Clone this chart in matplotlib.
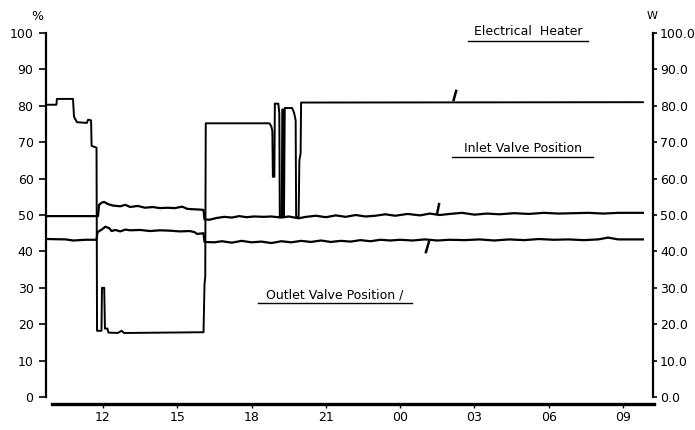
import matplotlib.pyplot as plt
import numpy as np

# time in hours (24 -> 00 next day), values in % (left) / W (right)
heater_t = [9.78, 10.12, 10.14, 10.79, 10.83, 10.95, 11.35, 11.40, 11.52, 11.54, 11.74,
            11.76, 11.94, 11.96, 12.05, 12.08, 12.18, 12.22, 12.6, 12.75, 12.85, 13.0,
            16.06, 16.10, 16.13, 16.15, 18.72, 18.80, 18.84, 18.86, 18.92, 18.94, 19.08,
            19.12, 19.14, 19.22, 19.24, 19.27, 19.29, 19.31, 19.34, 19.64, 19.72, 19.78,
            19.80, 19.90, 19.93, 19.98, 20.00, 33.80]
heater_v = [80.3, 80.3, 81.9, 81.9, 77.0, 75.5, 75.3, 76.2, 76.0, 69.0, 68.5,
            18.2, 18.2, 30.0, 30.0, 18.8, 18.8, 17.7, 17.6, 18.2, 17.6, 17.6,
            17.8, 31.0, 33.0, 75.2, 75.2, 74.3, 73.0, 60.5, 60.5, 80.6, 80.6,
            78.0, 49.5, 49.5, 79.0, 79.0, 49.8, 49.8, 79.4, 79.4, 78.0, 76.0,
            49.5, 49.3, 65.0, 67.0, 80.9, 81.0]

inlet_t = [9.78, 11.80, 11.84, 11.95, 12.05, 12.2, 12.4, 12.7, 12.9, 13.1, 13.4, 13.7,
           14.0, 14.3, 14.6, 14.9, 15.2, 15.4, 15.6, 15.9, 16.06, 16.10, 16.3, 16.6,
           16.9, 17.2, 17.5, 17.8, 18.1, 18.5, 18.8, 19.2, 19.5, 19.9, 20.2, 20.6,
           21.0, 21.4, 21.8, 22.2, 22.6, 23.0, 23.4, 23.8, 24.3, 24.8, 25.2, 25.6,
           26.0, 26.5, 27.0, 27.5, 28.0, 28.6, 29.2, 29.8, 30.4, 31.0, 31.6, 32.2,
           32.8, 33.80]
inlet_v = [49.7, 49.7, 52.8, 53.4, 53.6, 53.0, 52.6, 52.4, 52.8, 52.2, 52.5, 52.0,
           52.2, 51.9, 52.0, 51.9, 52.3, 51.7, 51.6, 51.5, 51.4, 48.8, 48.7, 49.2,
           49.5, 49.3, 49.7, 49.4, 49.6, 49.5, 49.6, 49.3, 49.6, 49.1, 49.5, 49.8,
           49.4, 49.9, 49.5, 50.0, 49.6, 49.8, 50.2, 49.8, 50.3, 49.9, 50.4, 50.0,
           50.3, 50.6, 50.1, 50.4, 50.2, 50.5, 50.3, 50.6, 50.4, 50.5, 50.6, 50.4,
           50.6, 50.6]

outlet_t = [9.78, 10.5, 10.8, 11.3, 11.74, 11.78, 11.95, 12.1, 12.25, 12.35, 12.5, 12.7,
            12.9, 13.1, 13.5, 13.9, 14.3, 14.7, 15.1, 15.5, 15.7, 15.8, 16.06, 16.10,
            16.5, 16.8, 17.2, 17.6, 18.0, 18.4, 18.8, 19.2, 19.6, 20.0, 20.4, 20.8,
            21.2, 21.6, 22.0, 22.4, 22.8, 23.2, 23.6, 24.0, 24.5, 25.0, 25.5, 26.0,
            26.6, 27.2, 27.8, 28.4, 29.0, 29.6, 30.2, 30.8, 31.4, 32.0, 32.4, 32.8,
            33.2, 33.80]
outlet_v = [43.4, 43.3, 43.0, 43.2, 43.2, 45.3, 46.0, 46.8, 46.4, 45.6, 45.9, 45.5,
            46.0, 45.8, 45.9, 45.6, 45.8, 45.7, 45.5, 45.6, 45.3, 44.8, 45.0, 42.6,
            42.5, 42.8, 42.4, 42.9, 42.5, 42.7, 42.3, 42.8, 42.5, 42.9, 42.6, 43.0,
            42.6, 42.9, 42.7, 43.1, 42.8, 43.2, 43.0, 43.2, 43.0, 43.3, 43.0, 43.2,
            43.1, 43.3, 43.0, 43.3, 43.1, 43.4, 43.2, 43.3, 43.1, 43.3, 43.8, 43.3,
            43.3, 43.3]

x_ticks = [12, 15, 18, 21, 24, 27, 30, 33]
x_labels = ['12', '15', '18', '21', '00', '03', '06', '09']
y_ticks = np.arange(0, 101, 10)

plt.rcParams['font.family'] = 'DejaVu Sans'

fig = plt.figure(figsize=(6.95, 4.30), dpi=100)
ax = fig.add_axes([0.0662, 0.0767, 0.8734, 0.8465])

ax.plot(heater_t, heater_v, color='k', lw=1.4)
ax.plot(inlet_t, inlet_v, color='k', lw=1.6)
ax.plot(outlet_t, outlet_v, color='k', lw=1.6)

ax.set_xlim(9.70, 34.21)
ax.set_ylim(0, 100)

ax.spines['top'].set_visible(False)
ax.spines['right'].set_visible(False)
ax.spines['left'].set_linewidth(1.6)
ax.spines['bottom'].set_linewidth(2.4)
ax.spines['bottom'].set_position(('outward', 5))
ax.spines['bottom'].set_bounds(9.94, 34.25)

ax.set_xticks(x_ticks)
ax.set_xticklabels(x_labels)
ax.set_yticks(y_ticks)
ax.set_yticklabels([str(v) for v in y_ticks])
ax.tick_params(axis='y', length=5, width=1.2, pad=4, labelsize=9)
ax.tick_params(axis='x', length=3, width=1, pad=2, labelsize=9)

ax2 = ax.twinx()
ax2.set_ylim(0, 100)
ax2.set_yticks(y_ticks)
ax2.set_yticklabels(['%.1f' % v for v in y_ticks])
ax2.tick_params(axis='y', length=3, width=1.2, pad=2, labelsize=9)
for s in ['top', 'left', 'bottom']:
    ax2.spines[s].set_visible(False)
ax2.spines['right'].set_linewidth(1.6)

fig.text(0.054, 0.962, '%', fontsize=9, ha='center', va='center')
fig.text(0.938, 0.962, 'W', fontsize=8, ha='center', va='center')

# series labels (underlined) with small leader strokes
ax.text(29.17, 100.5, 'Electrical  Heater', fontsize=9, ha='center', va='center', clip_on=False)
ax.plot([26.74, 31.59], [97.8, 97.8], color='k', lw=1, clip_on=False)
ax.text(28.95, 68.4, 'Inlet Valve Position', fontsize=9, ha='center', va='center')
ax.plot([26.10, 31.79], [65.9, 65.9], color='k', lw=1)
ax.text(21.37, 28.0, 'Outlet Valve Position /', fontsize=9, ha='center', va='center')
ax.plot([18.26, 24.48], [25.8, 25.8], color='k', lw=1)

ax.plot([26.16, 26.26], [81.6, 84.1], color='k', lw=1.8)
ax.plot([25.49, 25.57], [50.3, 53.0], color='k', lw=1.8)
ax.plot([25.04, 25.16], [39.8, 42.6], color='k', lw=1.8)

plt.savefig('out.png', dpi=100)
